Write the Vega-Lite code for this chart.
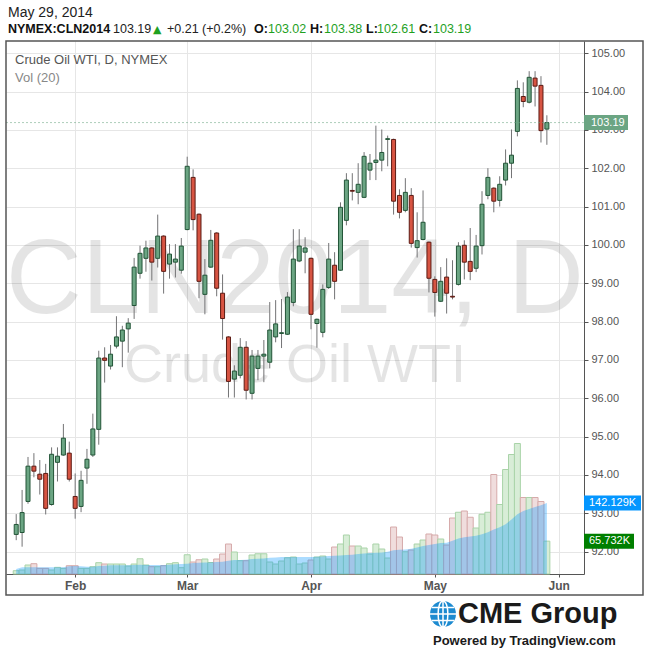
{
  "$schema": "https://vega.github.io/schema/vega-lite/v6.json",
  "width": 578,
  "height": 533,
  "autosize": "none",
  "padding": {"left": 6, "top": 41, "right": 66, "bottom": 78},
  "background": "white",
  "config": {"view": {"stroke": null}, "font": "Liberation Sans"},
  "datasets": {
    "bars": [
      {"i":1,"o":92.45,"h":92.98,"l":92.30,"c":92.71,"v":6.6,"ma":10},
      {"i":2,"o":92.50,"h":93.61,"l":92.13,"c":93.02,"v":8,"ma":13.3},
      {"i":3,"o":93.31,"h":94.47,"l":93.25,"c":94.23,"v":18,"ma":13.3},
      {"i":4,"o":94.23,"h":94.57,"l":93.94,"c":94.10,"v":20.6,"ma":13.3},
      {"i":5,"o":94.02,"h":94.39,"l":93.49,"c":93.89,"v":11.3,"ma":13.3},
      {"i":6,"o":94.04,"h":94.29,"l":92.97,"c":93.13,"v":11.3,"ma":13.3},
      {"i":7,"o":93.23,"h":94.72,"l":93.20,"c":94.54,"v":8,"ma":13.3},
      {"i":8,"o":94.33,"h":94.72,"l":93.83,"c":94.49,"v":13.3,"ma":13.3},
      {"i":9,"o":94.52,"h":95.33,"l":94.50,"c":94.96,"v":11.3,"ma":13.3},
      {"i":10,"o":94.57,"h":94.87,"l":93.83,"c":93.89,"v":16.6,"ma":15.3},
      {"i":11,"o":93.44,"h":94.04,"l":92.86,"c":93.13,"v":16.6,"ma":16},
      {"i":12,"o":93.18,"h":94.11,"l":93.03,"c":93.86,"v":11.3,"ma":15.3},
      {"i":13,"o":94.18,"h":94.68,"l":93.77,"c":94.41,"v":11.3,"ma":14.6},
      {"i":14,"o":94.52,"h":95.60,"l":94.47,"c":95.20,"v":14.6,"ma":14.6},
      {"i":15,"o":95.19,"h":97.24,"l":94.79,"c":97.05,"v":22.6,"ma":16},
      {"i":16,"o":97.05,"h":97.33,"l":96.41,"c":96.99,"v":20,"ma":16.6},
      {"i":17,"o":96.84,"h":97.39,"l":96.75,"c":97.15,"v":20,"ma":17.3},
      {"i":18,"o":97.36,"h":98.14,"l":97.30,"c":97.60,"v":20,"ma":17.3},
      {"i":19,"o":97.49,"h":97.89,"l":96.81,"c":97.78,"v":20,"ma":17.3},
      {"i":20,"o":97.81,"h":98.09,"l":97.19,"c":97.96,"v":16,"ma":17.3},
      {"i":21,"o":98.42,"h":99.66,"l":98.07,"c":99.42,"v":20,"ma":18},
      {"i":22,"o":99.26,"h":99.98,"l":99.12,"c":99.78,"v":30.5,"ma":18.6},
      {"i":23,"o":99.65,"h":100.11,"l":99.30,"c":99.92,"v":18,"ma":18},
      {"i":24,"o":99.92,"h":99.94,"l":99.07,"c":99.55,"v":14.6,"ma":18},
      {"i":25,"o":99.65,"h":100.79,"l":99.41,"c":100.23,"v":14.6,"ma":18},
      {"i":26,"o":100.23,"h":100.25,"l":98.73,"c":99.31,"v":16.6,"ma":18},
      {"i":27,"o":99.50,"h":100.02,"l":99.12,"c":99.76,"v":20.6,"ma":18.6},
      {"i":28,"o":99.55,"h":100.02,"l":99.15,"c":99.63,"v":22.6,"ma":19.3},
      {"i":29,"o":99.34,"h":100.18,"l":99.25,"c":99.97,"v":12.6,"ma":20},
      {"i":30,"o":100.40,"h":102.30,"l":100.38,"c":102.05,"v":38.5,"ma":20.6},
      {"i":31,"o":101.76,"h":101.97,"l":100.38,"c":100.66,"v":24,"ma":22},
      {"i":32,"o":100.80,"h":100.82,"l":98.61,"c":99.05,"v":28.5,"ma":22.6},
      {"i":33,"o":98.71,"h":99.63,"l":98.19,"c":99.21,"v":30,"ma":23},
      {"i":34,"o":99.42,"h":100.39,"l":99.40,"c":100.12,"v":23,"ma":23.2},
      {"i":35,"o":100.31,"h":100.33,"l":98.66,"c":98.87,"v":30,"ma":24},
      {"i":36,"o":98.74,"h":99.23,"l":97.53,"c":98.08,"v":40,"ma":24.6},
      {"i":37,"o":97.60,"h":97.62,"l":96.02,"c":96.44,"v":60,"ma":26.6},
      {"i":38,"o":96.50,"h":96.86,"l":96.02,"c":96.71,"v":44,"ma":28},
      {"i":39,"o":96.60,"h":97.57,"l":96.52,"c":97.33,"v":26.6,"ma":28},
      {"i":40,"o":97.33,"h":97.49,"l":95.97,"c":96.21,"v":26.6,"ma":28.5},
      {"i":41,"o":96.13,"h":97.26,"l":95.97,"c":97.10,"v":38,"ma":30},
      {"i":42,"o":96.78,"h":97.26,"l":96.47,"c":97.10,"v":40.5,"ma":30.5},
      {"i":43,"o":97.10,"h":97.52,"l":96.42,"c":97.15,"v":40.5,"ma":31.2},
      {"i":44,"o":96.94,"h":98.51,"l":96.78,"c":97.78,"v":24,"ma":32.5},
      {"i":45,"o":97.60,"h":98.56,"l":97.46,"c":97.94,"v":20,"ma":33.2},
      {"i":46,"o":97.69,"h":98.59,"l":97.31,"c":97.71,"v":26,"ma":34},
      {"i":47,"o":97.67,"h":98.77,"l":97.65,"c":98.64,"v":32.5,"ma":34},
      {"i":48,"o":98.50,"h":100.41,"l":98.40,"c":99.63,"v":34,"ma":34},
      {"i":49,"o":99.58,"h":100.41,"l":99.55,"c":99.97,"v":20,"ma":34},
      {"i":50,"o":99.81,"h":100.20,"l":99.26,"c":99.92,"v":22,"ma":34},
      {"i":51,"o":99.65,"h":99.67,"l":97.80,"c":98.19,"v":28,"ma":34},
      {"i":52,"o":97.95,"h":98.08,"l":97.32,"c":98.06,"v":34,"ma":34.5},
      {"i":53,"o":97.72,"h":98.97,"l":97.59,"c":98.84,"v":36,"ma":35.2},
      {"i":54,"o":98.89,"h":100.05,"l":98.85,"c":99.63,"v":30,"ma":35.9},
      {"i":55,"o":99.47,"h":99.81,"l":98.58,"c":99.05,"v":54,"ma":36.5},
      {"i":56,"o":99.34,"h":101.11,"l":99.32,"c":100.98,"v":60,"ma":37.2},
      {"i":57,"o":100.64,"h":101.87,"l":100.51,"c":101.69,"v":78,"ma":37.8},
      {"i":58,"o":101.42,"h":101.87,"l":101.16,"c":101.40,"v":56,"ma":38.5},
      {"i":59,"o":101.37,"h":102.13,"l":101.06,"c":101.58,"v":56,"ma":39.8},
      {"i":60,"o":101.24,"h":102.42,"l":101.22,"c":102.31,"v":52,"ma":41.2},
      {"i":61,"o":101.95,"h":102.37,"l":101.69,"c":102.13,"v":40,"ma":41.8},
      {"i":62,"o":102.15,"h":103.11,"l":101.69,"c":102.21,"v":60,"ma":42.5},
      {"i":63,"o":102.21,"h":103.01,"l":101.92,"c":102.41,"v":50,"ma":43.2},
      {"i":64,"o":102.75,"h":102.85,"l":102.05,"c":102.77,"v":32,"ma":44.5},
      {"i":65,"o":102.75,"h":102.77,"l":100.79,"c":101.14,"v":94,"ma":47.5},
      {"i":66,"o":101.29,"h":101.45,"l":100.69,"c":100.85,"v":74,"ma":48.5},
      {"i":67,"o":100.90,"h":101.74,"l":100.85,"c":101.37,"v":44.5,"ma":49},
      {"i":68,"o":101.29,"h":101.48,"l":99.93,"c":100.04,"v":48,"ma":50.5},
      {"i":69,"o":99.93,"h":100.85,"l":99.67,"c":100.11,"v":60,"ma":53},
      {"i":70,"o":100.14,"h":101.42,"l":100.12,"c":100.59,"v":68,"ma":55.8},
      {"i":71,"o":100.07,"h":100.09,"l":98.76,"c":99.13,"v":80,"ma":57.8},
      {"i":72,"o":99.10,"h":99.18,"l":98.13,"c":98.76,"v":78,"ma":59.8},
      {"i":73,"o":98.53,"h":99.42,"l":98.51,"c":99.05,"v":70,"ma":61.8},
      {"i":74,"o":99.16,"h":99.65,"l":98.21,"c":98.74,"v":58,"ma":62.4},
      {"i":75,"o":98.66,"h":99.60,"l":98.58,"c":98.64,"v":112,"ma":66.4},
      {"i":76,"o":98.97,"h":100.07,"l":98.94,"c":99.97,"v":123.5,"ma":71},
      {"i":77,"o":99.99,"h":100.12,"l":99.10,"c":99.55,"v":126,"ma":73.7},
      {"i":78,"o":99.57,"h":100.44,"l":99.08,"c":99.31,"v":113.5,"ma":75},
      {"i":79,"o":99.39,"h":100.26,"l":99.29,"c":99.97,"v":92,"ma":76.4},
      {"i":80,"o":99.98,"h":101.40,"l":99.75,"c":101.06,"v":119.5,"ma":79.7},
      {"i":81,"o":101.29,"h":102.00,"l":101.19,"c":101.76,"v":123.5,"ma":83.7},
      {"i":82,"o":101.48,"h":101.50,"l":100.85,"c":101.14,"v":199,"ma":89},
      {"i":83,"o":101.16,"h":101.79,"l":101.00,"c":101.58,"v":139,"ma":93.6},
      {"i":84,"o":101.69,"h":102.49,"l":101.55,"c":102.13,"v":209,"ma":99.6},
      {"i":85,"o":102.13,"h":103.01,"l":101.74,"c":102.34,"v":239,"ma":109},
      {"i":86,"o":102.96,"h":104.29,"l":102.83,"c":104.08,"v":261,"ma":119.5},
      {"i":87,"o":103.87,"h":104.24,"l":103.59,"c":103.74,"v":153,"ma":126},
      {"i":88,"o":103.72,"h":104.53,"l":103.69,"c":104.37,"v":153,"ma":130},
      {"i":89,"o":104.35,"h":104.53,"l":103.61,"c":104.14,"v":153,"ma":134},
      {"i":90,"o":104.16,"h":104.40,"l":102.67,"c":102.98,"v":145,"ma":137.5},
      {"i":91,"o":103.02,"h":103.38,"l":102.61,"c":103.19,"v":65.732,"ma":142.129}
    ]
  },
  "layer": [
    {
      "data": {"values": [{}]},
      "layer": [
        {"mark": {"type": "text", "text": "CLN2014, D", "x": 289, "y": 272, "align": "center", "baseline": "alphabetic", "fontSize": 105, "font": "Liberation Sans", "fill": "#000", "opacity": 0.1}},
        {"mark": {"type": "text", "text": "Crude Oil WTI", "x": 289, "y": 341, "align": "center", "baseline": "alphabetic", "fontSize": 54, "font": "Liberation Sans", "fill": "#000", "opacity": 0.1}}
      ]
    },
    {
      "data": {"name": "bars"},
      "layer": [
        {
          "mark": {"type": "bar", "width": 6, "strokeWidth": 1},
          "encoding": {
            "x": {"field": "i", "type": "quantitative", "title": null, "scale": {"domain": [0.1167, 96.45], "nice": false, "zero": false},
                  "axis": {"values": [11, 30, 51, 72, 93], "labelExpr": "datum.value == 11 ? 'Feb' : datum.value == 30 ? 'Mar' : datum.value == 51 ? 'Apr' : datum.value == 72 ? 'May' : 'Jun'", "grid": true, "gridColor": "#e6e6e6", "domainColor": "#555", "tickColor": "#555", "tickSize": 3, "labelColor": "#555", "labelFontSize": 12, "labelFontWeight": "bold", "labelPadding": 3}},
            "y": {"field": "v", "type": "quantitative", "title": null, "axis": null, "scale": {"domain": [0, 1066], "nice": false, "zero": true}},
            "fill": {"condition": {"test": "datum.c >= datum.o", "value": "#d8edd7"}, "value": "#f0dddd"},
            "stroke": {"condition": {"test": "datum.c >= datum.o", "value": "#a9d3a8"}, "value": "#d6aaaa"}
          }
        },
        {
          "mark": {"type": "area", "color": "#0496ff", "opacity": 0.33, "interpolate": "linear"},
          "encoding": {
            "x": {"field": "i", "type": "quantitative", "title": null},
            "y": {"field": "ma", "type": "quantitative", "title": null, "axis": null}
          }
        },
        {
          "transform": [{"filter": {"field": "i", "equal": 91}}],
          "layer": [
            {"mark": {"type": "rect", "x": 578, "x2": 635, "yOffset": -7.5, "y2Offset": 7.5, "color": "#0496ff"},
             "encoding": {"y": {"field": "ma", "type": "quantitative", "title": null, "axis": null}, "y2": {"field": "ma"}}},
            {"mark": {"type": "text", "x": 583, "align": "left", "baseline": "middle", "color": "white", "fontSize": 11, "text": "142.129K"},
             "encoding": {"y": {"field": "ma", "type": "quantitative", "title": null, "axis": null}}},
            {"mark": {"type": "rect", "x": 578, "x2": 628, "yOffset": -7.5, "y2Offset": 7.5, "color": "#007f00"},
             "encoding": {"y": {"field": "v", "type": "quantitative", "title": null, "axis": null}, "y2": {"field": "v"}}},
            {"mark": {"type": "text", "x": 583, "align": "left", "baseline": "middle", "color": "white", "fontSize": 11, "text": "65.732K"},
             "encoding": {"y": {"field": "v", "type": "quantitative", "title": null, "axis": null}}}
          ]
        }
      ]
    },
    {
      "data": {"name": "bars"},
      "layer": [
        {
          "mark": {"type": "rule", "color": "#737375", "strokeWidth": 1},
          "encoding": {
            "x": {"field": "i", "type": "quantitative", "title": null},
            "y": {"field": "l", "type": "quantitative", "title": null, "scale": {"domain": [91.418, 105.317], "nice": false, "zero": false},
                  "axis": {"orient": "right", "values": [92, 93, 94, 95, 96, 97, 98, 99, 100, 101, 102, 103, 104, 105], "format": ".2f", "grid": true, "gridColor": "#e6e6e6", "domainColor": "#555", "tickColor": "#555", "tickSize": 4, "labelColor": "#555", "labelFontSize": 11, "labelPadding": 3}},
            "y2": {"field": "h"}
          }
        },
        {
          "mark": {"type": "bar", "width": 4, "strokeWidth": 1},
          "encoding": {
            "x": {"field": "i", "type": "quantitative", "title": null},
            "y": {"field": "o", "type": "quantitative", "title": null},
            "y2": {"field": "c"},
            "fill": {"condition": {"test": "datum.c >= datum.o", "value": "#6ba583"}, "value": "#d75442"},
            "stroke": {"condition": {"test": "datum.c >= datum.o", "value": "#225437"}, "value": "#5b1a13"}
          }
        },
        {
          "transform": [{"filter": {"field": "i", "equal": 91}}],
          "layer": [
            {"mark": {"type": "rule", "color": "#6ba583", "opacity": 0.55, "strokeDash": [2, 2]},
             "encoding": {"y": {"field": "c", "type": "quantitative", "title": null}}},
            {"mark": {"type": "rect", "x": 578, "x2": 622, "yOffset": -7.5, "y2Offset": 7.5, "color": "#6ba583"},
             "encoding": {"y": {"field": "c", "type": "quantitative", "title": null}, "y2": {"field": "c"}}},
            {"mark": {"type": "text", "x": 585, "align": "left", "baseline": "middle", "color": "white", "fontSize": 11},
             "encoding": {"y": {"field": "c", "type": "quantitative", "title": null}, "text": {"field": "c", "format": ".2f"}}}
          ]
        }
      ]
    },
    {
      "data": {"values": [{}]},
      "layer": [
        {"mark": {"type": "rect", "x": 0, "x2": 637, "y": 0, "y2": 554, "fill": null, "fillOpacity": 0, "stroke": "#555", "strokeWidth": 1.5}},
        {"mark": {"type": "text", "text": "Crude Oil WTI, D, NYMEX", "x": 9, "y": 19, "align": "left", "baseline": "middle", "fontSize": 13, "color": "#555"}},
        {"mark": {"type": "text", "text": "Vol (20)", "x": 9, "y": 37, "align": "left", "baseline": "middle", "fontSize": 13, "color": "#888"}},
        {"mark": {"type": "text", "text": "May 29, 2014", "x": 2, "y": -24, "align": "left", "baseline": "alphabetic", "fontSize": 14, "color": "#222"}},
        {"mark": {"type": "text", "text": "NYMEX:CLN2014", "x": 2, "y": -8, "align": "left", "baseline": "alphabetic", "fontSize": 12.5, "fontWeight": "bold", "color": "#111"}},
        {"mark": {"type": "text", "text": "103.19", "x": 107, "y": -8, "align": "left", "baseline": "alphabetic", "fontSize": 12.5, "color": "#222"}},
        {"mark": {"type": "text", "text": "▲", "x": 147, "y": -8, "align": "left", "baseline": "alphabetic", "fontSize": 11, "font": "DejaVu Sans", "color": "#1fa11f"}},
        {"mark": {"type": "text", "text": "+0.21 (+0.2%)", "x": 161, "y": -8, "align": "left", "baseline": "alphabetic", "fontSize": 12.5, "color": "#222"}},
        {"mark": {"type": "text", "text": "O:", "x": 248, "y": -8, "align": "left", "baseline": "alphabetic", "fontSize": 12.5, "fontWeight": "bold", "color": "#111"}},
        {"mark": {"type": "text", "text": "103.02", "x": 262, "y": -8, "align": "left", "baseline": "alphabetic", "fontSize": 12.5, "color": "#1fa11f"}},
        {"mark": {"type": "text", "text": "H:", "x": 304, "y": -8, "align": "left", "baseline": "alphabetic", "fontSize": 12.5, "fontWeight": "bold", "color": "#111"}},
        {"mark": {"type": "text", "text": "103.38", "x": 318, "y": -8, "align": "left", "baseline": "alphabetic", "fontSize": 12.5, "color": "#1fa11f"}},
        {"mark": {"type": "text", "text": "L:", "x": 360, "y": -8, "align": "left", "baseline": "alphabetic", "fontSize": 12.5, "fontWeight": "bold", "color": "#111"}},
        {"mark": {"type": "text", "text": "102.61", "x": 371, "y": -8, "align": "left", "baseline": "alphabetic", "fontSize": 12.5, "color": "#1fa11f"}},
        {"mark": {"type": "text", "text": "C:", "x": 413, "y": -8, "align": "left", "baseline": "alphabetic", "fontSize": 12.5, "fontWeight": "bold", "color": "#111"}},
        {"mark": {"type": "text", "text": "103.19", "x": 427, "y": -8, "align": "left", "baseline": "alphabetic", "fontSize": 12.5, "color": "#1fa11f"}},
        {"mark": {"type": "point", "shape": "circle", "x": 437, "y": 573, "size": 676, "filled": true, "color": "#1c8ad0", "opacity": 1}},
        {"mark": {"type": "point", "shape": "M0,-1C0.5,-1 0.5,1 0,1C-0.5,1 -0.5,-1 0,-1Z", "x": 437, "y": 573, "size": 676, "filled": false, "stroke": "white", "strokeWidth": 1.5, "opacity": 1}},
        {"mark": {"type": "point", "shape": "M-1,0L1,0M-0.85,-0.5L0.85,-0.5M-0.85,0.5L0.85,0.5M0,-1L0,1", "x": 437, "y": 573, "size": 676, "filled": false, "stroke": "white", "strokeWidth": 1.5, "opacity": 1}},
        {"mark": {"type": "text", "text": "CME Group", "x": 452, "y": 582, "align": "left", "baseline": "alphabetic", "fontSize": 29, "fontWeight": "bold", "color": "#1a1a1a"}},
        {"mark": {"type": "text", "text": "Powered by TradingView.com", "x": 427, "y": 604, "align": "left", "baseline": "alphabetic", "fontSize": 13, "fontWeight": "bold", "color": "#1a1a1a"}}
      ]
    }
  ],
  "resolve": {"scale": {"y": "independent"}}
}
